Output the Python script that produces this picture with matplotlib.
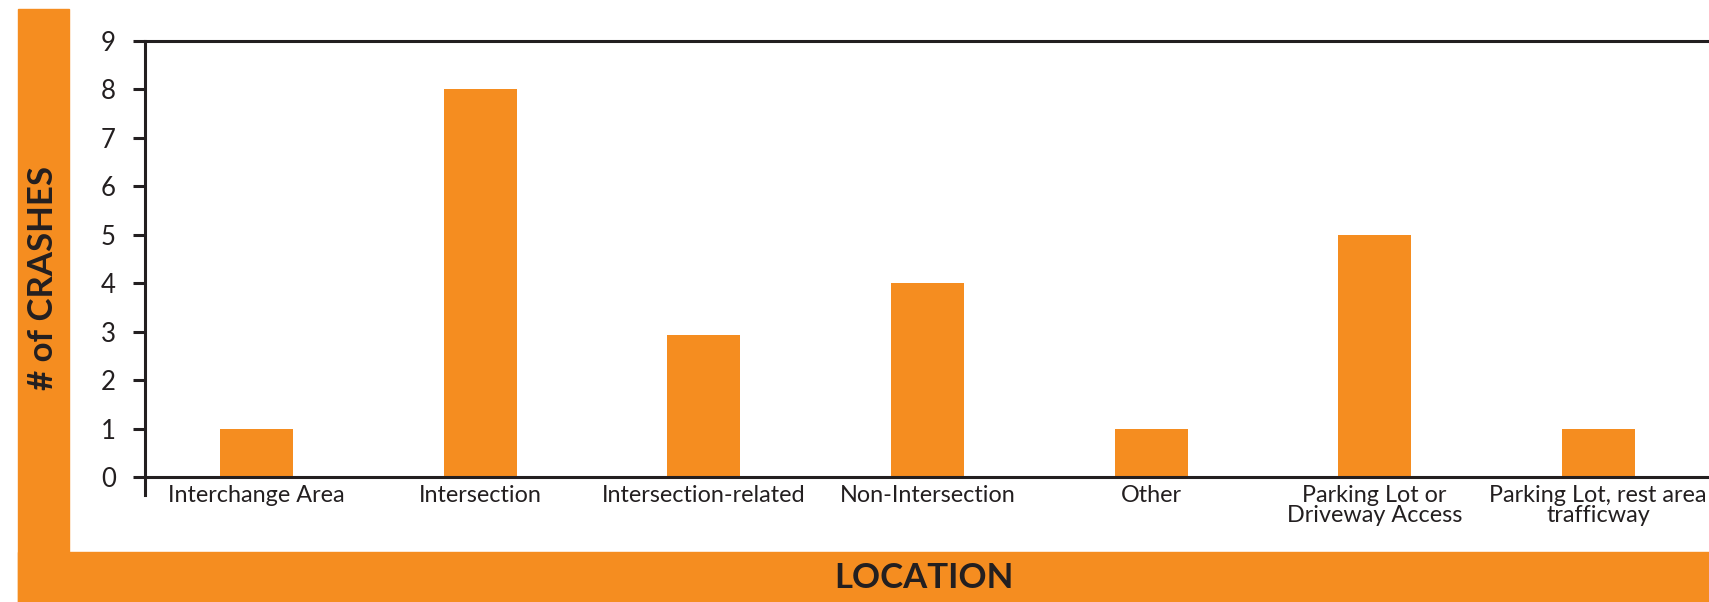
import matplotlib
matplotlib.use("Agg")
import matplotlib.pyplot as plt
from matplotlib.patches import Rectangle

# crash counts by location
locations = ["Interchange Area", "Intersection", "Intersection-related",
             "Non-Intersection", "Other", "Parking Lot or\nDriveway Access",
             "Parking Lot, rest area\ntrafficway"]
crashes = [1, 8, 2.93, 4, 1, 5, 1]
yticks = list(range(0, 10))

orange = "#f58d20"
ink = "#231f20"

plt.rcParams["font.family"] = ["Lato", "DejaVu Sans"]

W, H = 1709, 602
fig = plt.figure(figsize=(W / 100, H / 100), dpi=100)

# orange L-shaped frame behind the chart
fig.patches.append(Rectangle((18 / W, 0), 51 / W, 1 - 9 / H,
                             transform=fig.transFigure, color=orange, zorder=0))
fig.patches.append(Rectangle((18 / W, 0), 1 - 18 / W, 50 / H,
                             transform=fig.transFigure, color=orange, zorder=0))

ax = fig.add_axes([145 / W, 1 - 477 / H, 1 - 145 / W + 1 / W, (477 - 41) / H])
ax.set_facecolor("none")

ax.bar(range(len(locations)), crashes, width=0.326, color=orange, zorder=2)

ax.set_xlim(-0.5, len(locations) - 0.5)
ax.set_ylim(0, 9)
ax.set_yticks(yticks)
ax.set_xticks(range(len(locations)))
ax.set_xticklabels(locations, fontsize=16.8, color=ink, linespacing=0.92)
ax.tick_params(axis="x", length=0, pad=6)
ax.tick_params(axis="y", length=9, width=2.2, color=ink, pad=12,
               labelsize=18.5, labelcolor=ink)

for side in ["left", "top", "bottom"]:
    ax.spines[side].set_color(ink)
    ax.spines[side].set_linewidth(2.2)
ax.spines["right"].set_visible(False)
ax.spines["left"].set_bounds(-18 / 48.4, 9)

fig.text(924 / W, 1 - 578 / H, "LOCATION", ha="center", va="center",
         fontsize=25, fontweight="bold", color=ink)
fig.text(43 / W, 1 - 278 / H, "# of CRASHES", ha="center", va="center",
         rotation=90, fontsize=25, fontweight="bold", color=ink)

fig.savefig("out.png", dpi=100)
